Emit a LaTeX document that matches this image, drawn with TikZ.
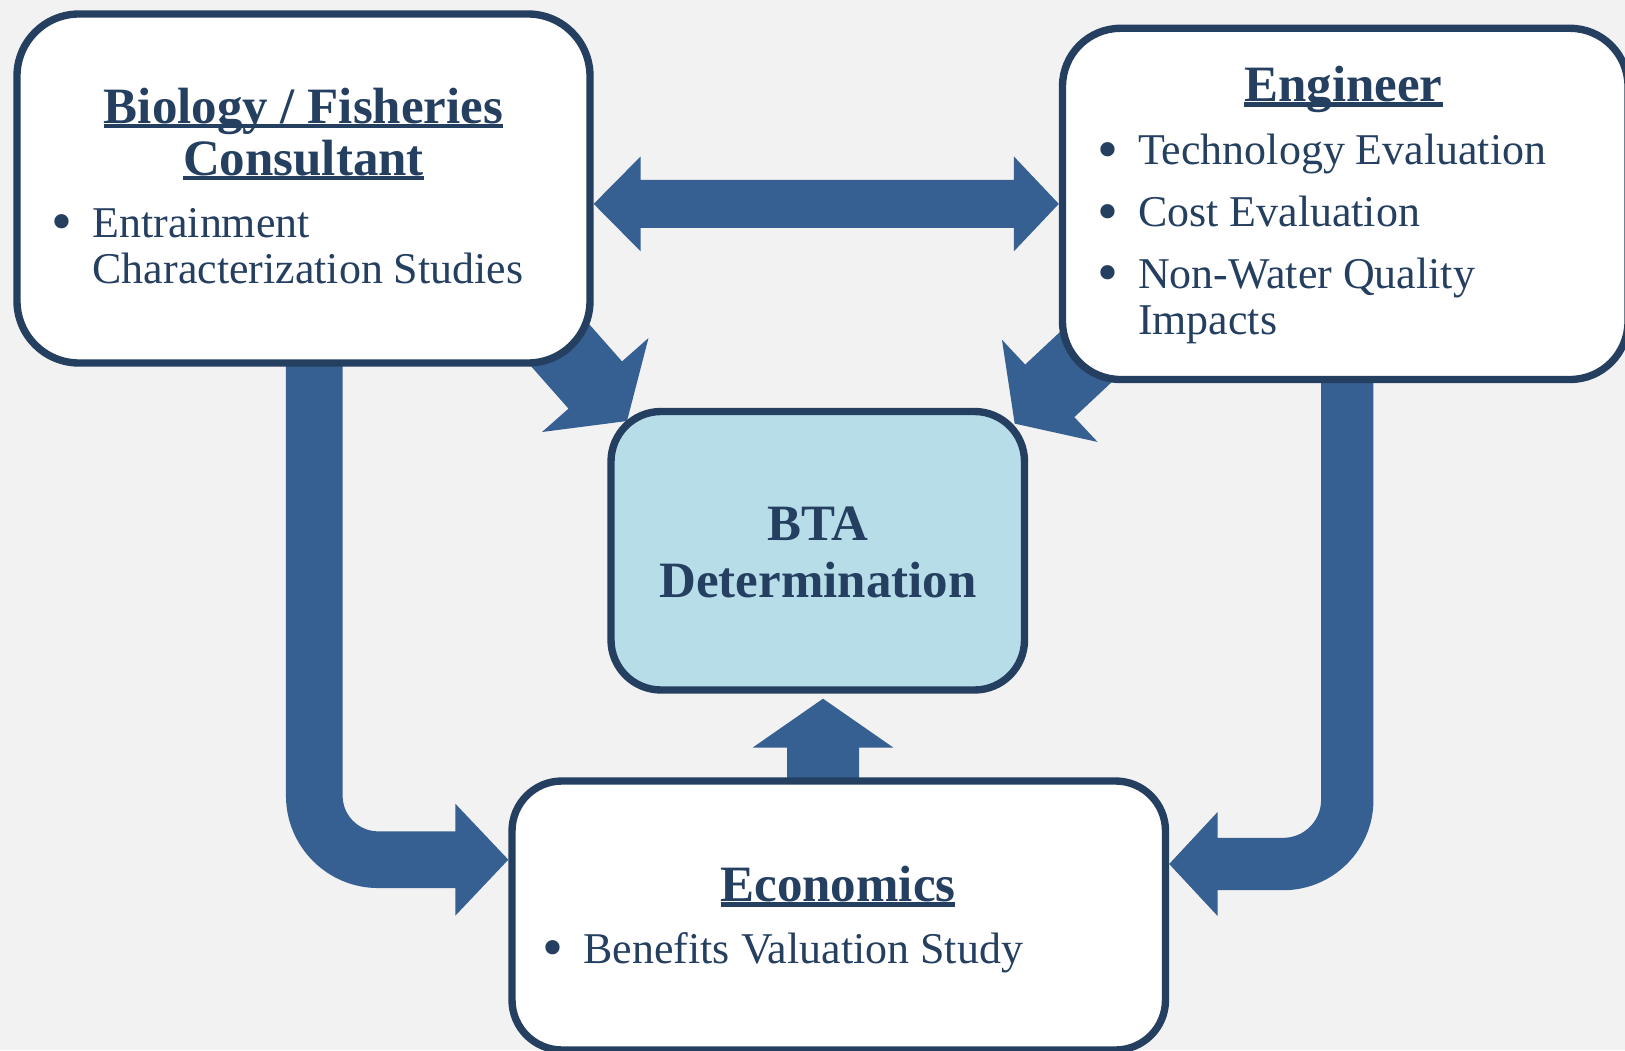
\documentclass[tikz,border=0pt]{standalone}
\usepackage{fontspec}
\setmainfont{Liberation Serif}
\usetikzlibrary{calc}

\definecolor{bgGrey}{HTML}{F2F2F2}
\definecolor{arrowBlue}{HTML}{376092}
\definecolor{lineNavy}{HTML}{243F60}
\definecolor{btaFill}{HTML}{B7DEE8}

% underline that crosses the descenders
\newlength{\ulwd}
\newcommand{\uln}[1]{\settowidth{\ulwd}{#1}\rlap{\rule[-1.4pt]{\ulwd}{1.2pt}}#1}
% a larger bullet
\newcommand{\bul}{\raisebox{-1.3pt}{\fontsize{17pt}{17pt}\selectfont\textbullet}}

\pgfdeclarelayer{bg}
\pgfsetlayers{bg,main}

\tikzset{
  rolebox/.style={draw=lineNavy, line width=2.1pt, rounded corners=#1, inner sep=0pt},
  rolebox/.default=0.5cm,
  titletext/.style={text=lineNavy, inner sep=0pt, anchor=base,
    font=\fontsize{14.5pt}{14.8pt}\selectfont\bfseries},
  listtext/.style={text=lineNavy, inner sep=0pt, anchor=base west,
    font=\fontsize{12.5pt}{13.2pt}\selectfont}
}

% tail, tip, shaft half width, head half width, head length
\newcommand{\blockarrow}[5]{%
  \coordinate (ba-base) at ($(#2)!#5!(#1)$);
  \fill[arrowBlue] ($(#1)!#3!90:(#2)$) -- ($(ba-base)!#3!90:(#2)$) -- ($(ba-base)!#4!90:(#2)$) -- (#2)
    -- ($(ba-base)!#4!-90:(#2)$) -- ($(ba-base)!#3!-90:(#2)$) -- ($(#1)!#3!-90:(#2)$) -- cycle;
}

\begin{document}
\begin{tikzpicture}
  \useasboundingbox (0,0) rectangle (16.25,10.5);

  % boxes
  \node[rolebox=0.62cm, fill=white, minimum width=5.73cm, minimum height=3.49cm] (bio) at (3.035,8.615) {};
  \node[rolebox=0.58cm, fill=white, minimum width=5.655cm, minimum height=3.512cm] (eng) at (13.4525,8.461) {};
  \node[rolebox, fill=btaFill, minimum width=4.135cm, minimum height=2.785cm] (bta) at (8.1775,4.9925) {};
  \node[rolebox, fill=white, minimum width=6.535cm, minimum height=2.69cm] (eco) at (8.3875,1.345) {};

  % texts
  \node[titletext] (bio-title) at (3.035,9.265)
    {\begin{tabular}[t]{@{}c@{}}\uln{Biology / Fisheries}\\\uln{Consultant}\end{tabular}};
  \node[listtext] (bio-list) at (0.51,8.127)
    {\begin{tabular}[t]{@{}l@{\hspace{5.7pt}}l@{}}\bul & Entrainment\\ & Characterization Studies\end{tabular}};

  \node[titletext] (eng-title) at (13.435,9.483) {\uln{Engineer}};
  \node[listtext] (eng-list) at (10.965,8.85)
    {\begin{tabular}[t]{@{}l@{\hspace{5.7pt}}l@{}}\bul & Technology Evaluation\\[4.3pt]
      \bul & Cost Evaluation\\[4.3pt]
      \bul & Non-Water Quality\\ & Impacts\end{tabular}};

  \node[titletext] (bta-title) at (8.18,5.093)
    {\begin{tabular}[t]{@{}c@{}}BTA\\[1.3pt]Determination\end{tabular}};

  \node[titletext] (eco-title) at (8.38,1.483) {\uln{Economics}};
  \node[listtext] (eco-list) at (5.42,0.867)
    {\begin{tabular}[t]{@{}l@{\hspace{5.7pt}}l@{}}\bul & Benefits Valuation Study\end{tabular}};

  % arrows, under the boxes
  \begin{pgfonlayer}{bg}
    \fill[bgGrey] (0,0) rectangle (16.25,10.5);

    \coordinate (dbl-l) at (bio.east |- eng.west);
    \coordinate (dbl-r) at (eng.west);
    \fill[arrowBlue] (dbl-l) -- ++(0.47,0.475) -- ++(0,-0.235) -- ($(dbl-r)+(-0.45,0.24)$) -- ++(0,0.235)
      -- (dbl-r) -- ++(-0.45,-0.475) -- ++(0,0.235) -- ($(dbl-l)+(0.47,-0.24)$) -- ++(0,-0.235) -- cycle;

    \coordinate (bl-tail) at ([shift={(-0.66,0.582)}]bio.south east);
    \coordinate (bl-tip) at ([shift={(0.197,-0.132)}]bta.north west);
    \blockarrow{bl-tail}{bl-tip}{0.357cm}{0.71cm}{0.48cm}

    \coordinate (br-tail) at ([shift={(0.654,0.62)}]eng.south west);
    \coordinate (br-tip) at ([shift={(-0.135,-0.158)}]bta.north east);
    \blockarrow{br-tail}{br-tip}{0.36cm}{0.70cm}{0.48cm}

    \coordinate (up-tail) at ([shift={(-0.1575,-0.277)}]eco.north);
    \coordinate (up-tip) at ([shift={(0.0525,-0.05)}]bta.south);
    \blockarrow{up-tail}{up-tip}{0.36cm}{0.705cm}{0.49cm}

    \coordinate (ll-top) at ([shift={(0.108,0.3)}]bio.south);
    \coordinate (ll-tip) at ([yshift=0.558cm]eco.west);
    \draw[arrowBlue, line width=0.567cm, rounded corners=0.64cm] (ll-top) |- ($(ll-tip)+(-0.52,0)$);
    \fill[arrowBlue] ($(ll-tip)+(-0.53,0.56)$) -- (ll-tip) -- ($(ll-tip)+(-0.53,-0.56)$) -- cycle;

    \coordinate (rl-top) at ([shift={(0.02,0.3)}]eng.south);
    \coordinate (rl-tip) at ([yshift=0.515cm]eco.east);
    \draw[arrowBlue, line width=0.524cm, rounded corners=0.64cm] (rl-top) |- ($(rl-tip)+(0.47,0)$);
    \fill[arrowBlue] ($(rl-tip)+(0.484,0.52)$) -- (rl-tip) -- ($(rl-tip)+(0.484,-0.52)$) -- cycle;
  \end{pgfonlayer}
\end{tikzpicture}
\end{document}
